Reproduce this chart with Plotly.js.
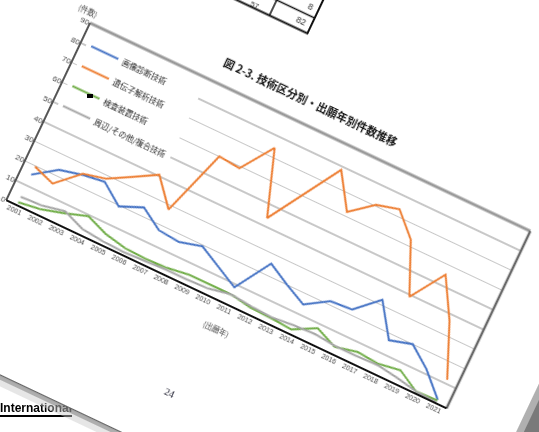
<!DOCTYPE html>
<html>
<head>
<meta charset="utf-8">
<script src="https://cdn.plot.ly/plotly-3.0.1.min.js"></script>
<style>
  html, body { margin:0; padding:0; width:539px; height:432px; overflow:hidden; background:#ffffff; }
  #under { position:absolute; left:0px; top:401px; font-family:"Liberation Sans", Arial, sans-serif; font-weight:bold; font-size:12px; color:#000; border-bottom:2px solid #000; white-space:nowrap; padding-bottom:0px; filter: blur(0.6px); }
  #chart { position:absolute; filter: blur(0.7px); }
  #dot { position:absolute; left:87px; top:94px; width:6px; height:4px; background:#000; }
</style>
</head>
<body>
<div id="under">International</div>
<div id="chart"></div>
<div id="dot"></div>
<script>
// ---- data ----
const years = [2001,2002,2003,2004,2005,2006,2007,2008,2009,2010,2011,2012,2013,2014,2015,2016,2017,2018,2019,2020,2021];
const yearLabels = years.map(String);
const seriesNames = ['画像診断技術', '遺伝子解析技術', '検査装置技術', '周辺/その他/複合技術'];
const blueVals   = [15.5, 23, 25.5, 27, 19.5, 24, 17.5, 16.5, 19.4, 14, 8.6, 25.7, 20, 15, 21.7, 22.5, 32.5, 17, 20, 12.3, 1.8];
const orangeVals = [19.6, 16, 26, 28.5, 34.5, 40.6, 28, 60, 59, 74.4, 43.8, 61, 78.3, 62, 70.6, 73.4, 63, 39, 55.3, 37, 12];
const greenVals  = [1.5, 3, 6, 9.5, 5.5, 3.5, 3, 3.5, 4.9, 5, 5, 3.3, 3, 2.3, 8, 3.6, 6, 5, 6.8, 1, 1.5];
const grayVals   = [4.3, 4.8, 7, 3, 2, 1.5, 2, 2.5, 2.5, 3, 5, 4, 3.5, 4.5, 5, 4, 4, 4.5, 3, 1, 0.5];
const titleText = '図 2-3. 技術区分別・出願年別件数推移';
const yUnit = '(件数)';
const xUnit = '(出願年)';
const pageNo = '24';
const tableTexts = ['57', '82', '8'];

// ---- geometry (plot area in the photographed page) ----
const PW = 487, PH = 196;          // plot area size
const L = 100, T = 220, R = 100, B = 220;
const ANG = 25.3;
const el = document.getElementById('chart');
el.style.left = (90 - L) + 'px';
el.style.top = (23 - T) + 'px';
el.style.transformOrigin = L + 'px ' + T + 'px';
el.style.transform = 'rotate(' + ANG + 'deg)';

const px = u => u / PW;          // along-axis pixels -> paper x
const py = v => 1 - v / PH;      // down-from-top pixels -> paper y

const colors = ['#4472C4', '#ED7D31', '#70AD47', '#A5A5A5'];
const vals = [blueVals, orangeVals, greenVals, grayVals];
const traces = vals.map((v, i) => ({
  x: years, y: v, type: 'scatter', mode: 'lines', name: seriesNames[i],
  legendgroup: 'g' + i,
  line: {color: colors[i], width: 2}
}));

const shapes = [];
// the page sheet
shapes.push({type:'rect', xref:'paper', yref:'paper', layer:'below', x0:px(-320), x1:px(560), y0:py(356), y1:py(-320), fillcolor:'#ffffff', line:{width:0}});
// background to the right of the page
shapes.push({type:'rect', xref:'paper', yref:'paper', layer:'below', x0:px(560), x1:px(700), y0:py(600), y1:py(-320), fillcolor:'#7a7a7a', line:{width:0}});
shapes.push({type:'rect', xref:'paper', yref:'paper', layer:'below', x0:px(560), x1:px(567), y0:py(600), y1:py(-320), fillcolor:'#b0b0b0', line:{width:0}});
// soft shadow below the page bottom edge
shapes.push({type:'rect', xref:'paper', yref:'paper', x0:px(-320), x1:px(560), y0:py(357.5), y1:py(356), fillcolor:'#666666', line:{width:0}});
shapes.push({type:'rect', xref:'paper', yref:'paper', x0:px(-320), x1:px(560), y0:py(361), y1:py(357.5), fillcolor:'rgba(140,140,140,0.7)', line:{width:0}});
shapes.push({type:'rect', xref:'paper', yref:'paper', x0:px(-320), x1:px(560), y0:py(367), y1:py(361), fillcolor:'rgba(200,200,200,0.45)', line:{width:0}});
// plot frame
shapes.push({type:'line', xref:'paper', yref:'paper', x0:0, x1:1, y0:1, y1:1, line:{color:'#9a9a9a', width:3}});
shapes.push({type:'line', xref:'paper', yref:'paper', x0:1, x1:1, y0:0, y1:1, line:{color:'#6a6a6a', width:2.5}});
shapes.push({type:'line', xref:'paper', yref:'paper', x0:0, x1:0, y0:0, y1:1, line:{color:'#555555', width:2}});
shapes.push({type:'line', xref:'paper', yref:'paper', x0:0, x1:1, y0:0, y1:0, line:{color:'#111111', width:2}});
// table fragment above the chart
shapes.push({type:'line', xref:'paper', yref:'paper', x0:px(40), x1:px(202), y0:py(-83.5), y1:py(-83.5), line:{color:'#111', width:2}});
shapes.push({type:'line', xref:'paper', yref:'paper', x0:px(201), x1:px(201), y0:py(-83.5), y1:py(-160), line:{color:'#111', width:2}});
shapes.push({type:'line', xref:'paper', yref:'paper', x0:px(40), x1:px(201), y0:py(-100.5), y1:py(-100.5), line:{color:'#111', width:1.5}});
shapes.push({type:'line', xref:'paper', yref:'paper', x0:px(159), x1:px(159), y0:py(-83.5), y1:py(-160), line:{color:'#111', width:1.5}});

const annotations = [
  {text:'<b>' + titleText + '</b>', xref:'paper', yref:'paper', x:px(233), y:py(-23), showarrow:false, xanchor:'center', yanchor:'middle', font:{family:'Noto Sans CJK JP', size:11, color:'#111'}},
  {text:yUnit, xref:'paper', yref:'paper', x:px(-7), y:py(-11), showarrow:false, xanchor:'center', yanchor:'middle', font:{family:'Noto Sans CJK JP', size:7.5, color:'#444'}},
  {text:xUnit, xref:'paper', yref:'paper', x:px(245), y:py(222), showarrow:false, xanchor:'center', yanchor:'middle', font:{family:'Noto Sans CJK JP', size:7.5, color:'#444'}},
  {text:pageNo, xref:'paper', yref:'paper', x:px(230), y:py(300), showarrow:false, xanchor:'center', yanchor:'middle', font:{family:'Liberation Serif', size:10, color:'#223'}},
  {text:tableTexts[0], xref:'paper', yref:'paper', x:px(147), y:py(-87), showarrow:false, xanchor:'right', yanchor:'middle', font:{family:'Liberation Sans', size:7.5, color:'#333'}},
  {text:tableTexts[1], xref:'paper', yref:'paper', x:px(197), y:py(-92), showarrow:false, xanchor:'right', yanchor:'middle', font:{family:'Liberation Sans', size:9, color:'#333'}},
  {text:tableTexts[2], xref:'paper', yref:'paper', x:px(197), y:py(-109), showarrow:false, xanchor:'right', yanchor:'middle', font:{family:'Liberation Sans', size:9, color:'#333'}}
];

const layout = {
  width: L + PW + R, height: T + PH + B,
  margin: {l:L, r:R, t:T, b:B, pad:0},
  paper_bgcolor: 'rgba(0,0,0,0)', plot_bgcolor: 'rgba(0,0,0,0)',
  font: {family:'Noto Sans CJK JP', size:8, color:'#444'},
  showlegend: true,
  legend: {x:px(6), y:py(6), xanchor:'left', yanchor:'top', bgcolor:'#ffffff', borderwidth:0,
           font:{family:'Noto Sans CJK JP', size:8, color:'#222'}, tracegroupgap:3, itemwidth:30},
  xaxis: {range:[2000.5, 2021.5], tickmode:'array', tickvals:years, ticktext:yearLabels,
          showgrid:false, zeroline:false, showline:false, ticks:'', tickangle:0,
          tickfont:{family:'Liberation Sans', size:7, color:'#444'}},
  yaxis: {range:[0, 90], dtick:10, showgrid:true, gridcolor:'#c8c8c8', gridwidth:1.5,
          zeroline:false, showline:false, ticks:'',
          tickfont:{family:'Liberation Sans', size:8, color:'#444'}},
  shapes: shapes,
  annotations: annotations
};

Plotly.newPlot('chart', traces, layout, {displayModeBar:false, staticPlot:true});
</script>
</body>
</html>
